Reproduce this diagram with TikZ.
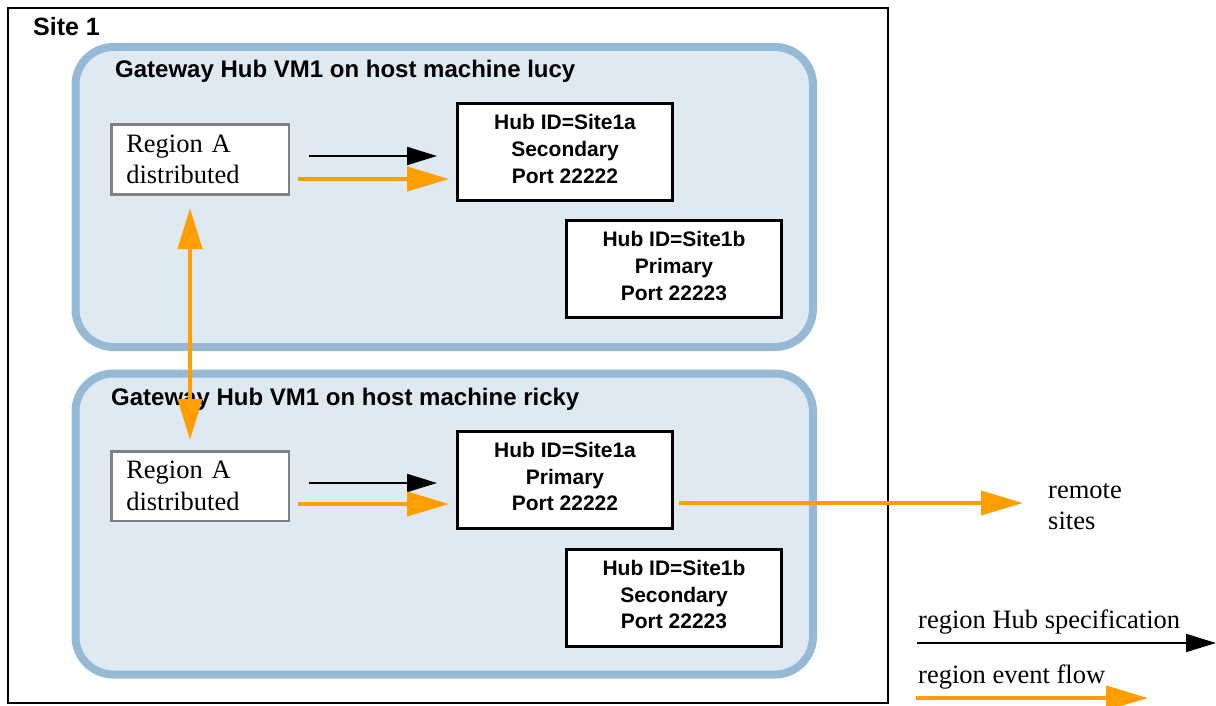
\documentclass[tikz,border=0pt]{standalone}
\usepackage{fontspec}
\setmainfont{Liberation Serif}
\newfontfamily\hv{Liberation Sans}
\usetikzlibrary{arrows.meta,calc}
\definecolor{hubfill}{HTML}{DFE9F2}
\definecolor{hubline}{HTML}{96BAD6}
\definecolor{flow}{HTML}{FF9E00}
\begin{document}
\begin{tikzpicture}[x=1pt,y=-1pt,
  vmbox/.style={draw=hubline, fill=hubfill, line width=8pt, rounded corners=38pt,
    minimum width=737.5pt, minimum height=300pt, inner sep=0pt},
  vmtitle/.style={anchor=base west, inner sep=0pt, font=\hv\bfseries\fontsize{24}{28}\selectfont},
  hubbox/.style={draw=black, fill=white, line width=3pt, minimum width=215pt,
    minimum height=97pt, align=center, inner sep=0pt, text depth=6pt,
    font=\hv\bfseries\fontsize{21}{26.8}\selectfont},
  regbox/.style={draw=gray, fill=white, line width=2.5pt, minimum width=177.5pt,
    minimum height=69.5pt, text width=147.5pt, inner xsep=15pt, inner ysep=0pt,
    align=left, font=\fontsize{26.5}{31.5}\selectfont},
  serif/.style={inner sep=0pt, align=left, font=\fontsize{26.5}{31}\selectfont},
  spec/.style={-{Triangle[length=30pt,width=18pt]}, line width=2pt},
  flowarrow/.style={-{Triangle[length=42pt,width=24pt]}, draw=flow, line width=4pt},
  bothflow/.style={{Triangle[length=41pt,width=24pt]}-{Triangle[length=41pt,width=24pt]}, draw=flow, line width=4pt}
]
\useasboundingbox (0,0) rectangle (1216,706);

% site frame
\node[draw=black, line width=2pt, minimum width=880pt, minimum height=695pt, inner sep=0pt] (site) at (448,355.5) {};
\node[anchor=base west, inner sep=0pt, font=\hv\bfseries\fontsize{25}{30}\selectfont] (sitelabel) at (33,36) {Site 1};

% gateway hub VMs
\node[vmbox] (lucy) at (444.25,197) {};
\node[vmbox, minimum height=301pt] (ricky) at (444.25,524) {};
\node[vmtitle] (lucyt) at (115,77.5) {Gateway Hub VM1 on host machine lucy};
\node[vmtitle] (rickyt) at (111,405) {Gateway Hub VM1 on host machine ricky};

% regions
\node[regbox] (rA1) at (200,159.5) {Region A\\distributed};
\node[regbox] (rA2) at (200,486) {Region A\\distributed};

% hubs
\node[hubbox] (hA1) at (565,152) {Hub ID=Site1a\\Secondary\\Port 22222};
\node[hubbox] (hB1) at (674,269) {Hub ID=Site1b\\Primary\\Port 22223};
\node[hubbox] (hA2) at (565,479.5) {Hub ID=Site1a\\Primary\\Port 22222};
\node[hubbox] (hB2) at (674,597.5) {Hub ID=Site1b\\Secondary\\Port 22223};

% remote sites
\node[serif, anchor=base west] (remote) at (1048,529) {remote\\sites};
\coordinate (remtip) at (1023,503);

% arrows top
\coordinate (s1) at ([yshift=-4pt]hA1.west);
\coordinate (f1) at ([yshift=-27pt]hA1.west);
\draw[spec] ($(rA1.east |- s1)+(19,0)$) -- ($(s1)+(-19,0)$);
\draw[flowarrow] ($(rA1.east |- f1)+(8,0)$) -- ($(f1)+(-7,0)$);

% arrows bottom
\coordinate (s2) at ([yshift=-3.5pt]hA2.west);
\coordinate (f2) at ([yshift=-24.5pt]hA2.west);
\draw[spec] ($(rA2.east |- s2)+(19,0)$) -- ($(s2)+(-19,0)$);
\draw[flowarrow] ($(rA2.east |- f2)+(8,0)$) -- ($(f2)+(-7,0)$);

% to remote sites
\draw[flowarrow] ($(hA2.east |- remtip)+(5,0)$) -- (remtip);

% between regions
\draw[bothflow] ([xshift=-10pt,yshift=-12.5pt]rA1.south) -- ([xshift=-10pt,yshift=10pt]rA2.north);

% legend
\node[serif, anchor=base west] (lspec) at (918,628) {region Hub specification};
\node[serif, anchor=base west] (lflow) at (918,683) {region event flow};
\coordinate (l1a) at (917,643);
\coordinate (l1b) at (1216,643);
\coordinate (l2a) at (916,698);
\coordinate (l2b) at (1148,698);
\draw[spec] (l1a) -- (l1b);
\draw[flowarrow] (l2a) -- (l2b);
\end{tikzpicture}
\end{document}
